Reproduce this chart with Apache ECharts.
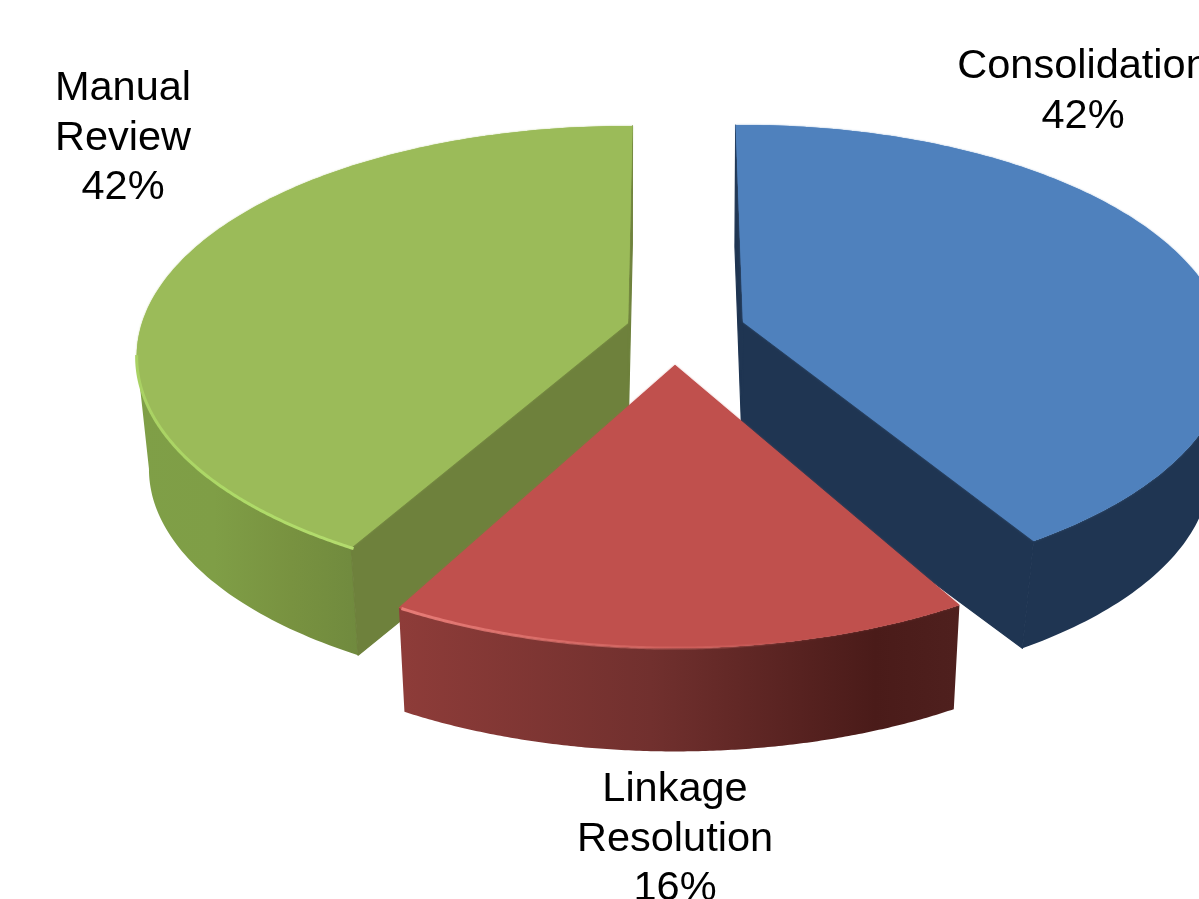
<!DOCTYPE html>
<html>
<head>
<meta charset="utf-8">
<style>html,body{margin:0;padding:0;background:#fff;overflow:hidden}#c{width:1199px;height:899px}</style>
<script src="https://cdn.jsdelivr.net/npm/echarts@6/dist/echarts.min.js"></script>
</head>
<body>
<div id="c"></div>
<script>
const categories = ['Consolidation', 'Linkage\nResolution', 'Manual\nReview'];
const shares = [42, 16, 42];

// View of each exploded slice (3D projection parameters, not data)
const views = [
  {apex:[743,322], rx:480, ry:226, p:0.147, nudge:[-1,-3.2], dx:-1, depth:115, coreDrop:4, scale:0.965, faces:true, layer:0,
   top:'#4F81BD', face:'#1F3552', side:[[0,'#1F3552'],[1,'#1F3552']], glow:'rgba(79,129,189,0.7)',
   label:[1083,91.5]},
  {apex:[675,365], rx:488, ry:231, p:0.184, nudge:[-0.5,-0.5], dx:0, depth:109, coreDrop:0, scale:0.98, faces:false, layer:10,
   top:'#C0504D', face:'#7B2F2C', side:[[0,'#8E3C39'],[0.45,'#71302E'],[0.85,'#4A1B19'],[1,'#4F201E']], glow:'rgba(192,80,77,0.7)',
   rim:[[0,'rgba(232,125,120,1)'],[0.55,'rgba(225,115,110,0.35)'],[0.7,'rgba(225,115,110,0)'],[1,'rgba(225,115,110,0)']],
   rimRange:[151,208], label:[675,839.5]},
  {apex:[628,323], rx:486, ry:226, p:0.147, nudge:[1,0.6], dx:0, depth:113, coreDrop:0, scale:0.975, faces:true, layer:0,
   top:'#9BBB59', face:'#6E813C', side:[[0,'#7F9F47'],[0.35,'#7F9E46'],[0.7,'#789240'],[1,'#708A3E']], glow:'rgba(155,187,89,0.7)',
   rim:[[0,'#A9D163'],[0.5,'#AEDB68'],[1,'#B4DC6E']], rimRange:[209.5,262], label:[123,138.5]}
];
const fontPx = 41.5;
const lineH = 49.5;

const total = shares.reduce((a, b) => a + b, 0);

function project(v, deg, bottom) {
  const t = deg * Math.PI / 180, a = Math.sin(t), b = -Math.cos(t);
  const d = 1 - v.p * b;
  const x = v.rx * a / d, y = v.ry * b / d;
  return bottom
    ? [v.apex[0] + v.dx + v.scale * x, v.apex[1] + v.depth + v.scale * y]
    : [v.apex[0] + x, v.apex[1] + y];
}
function arc(v, a0, a1, bottom) {
  const out = [], n = 160;
  for (let i = 0; i <= n; i++) out.push(project(v, a0 + (a1 - a0) * i / n, bottom));
  return out;
}
// Only the part of the rim facing the viewer gets a side wall
function frontBand(v, a0, a1) {
  const cx = v.apex[0];
  const top = arc(v, a0, a1, false), bot = arc(v, a0, a1, true);
  let ext = 0;
  top.forEach((pt, i) => { if (Math.abs(pt[0] - cx) > Math.abs(top[ext][0] - cx)) ext = i; });
  const ey = top[ext][1];
  const keep = [];
  top.forEach((pt, i) => { if (pt[1] >= ey) keep.push(i); });
  const t = keep.map(i => top[i]), b = keep.map(i => bot[i]);
  return t.concat(b.reverse());
}
function grad(stops) {
  return {type:'linear', x:0, y:0, x2:1, y2:0, colorStops: stops.map(s => ({offset:s[0], color:s[1]}))};
}

function renderItem(params, api) {
  const i = params.dataIndex, v = views[i], value = api.value(0);
  let before = 0;
  for (let k = 0; k < i; k++) before += shares[k];
  const a0 = before / total * 360 + v.nudge[0];
  const a1 = (before + value) / total * 360 + v.nudge[1];
  const topArc = arc(v, a0, a1, false), botArc = arc(v, a0, a1, true);
  const apexBottom = [v.apex[0] + v.dx, v.apex[1] + v.depth + v.coreDrop];
  const children = [];
  const poly = (points, style) => ({type:'polygon', z2:v.layer, shape:{points}, style});

  children.push(poly(frontBand(v, a0, a1), {fill:grad(v.side)}));
  if (v.faces) {
    const faceStyle = {fill:v.face, stroke:v.face, lineWidth:1.2, lineJoin:'round'};
    children.push(poly([v.apex, topArc[0], botArc[0], apexBottom], faceStyle));
    children.push(poly([v.apex, topArc[topArc.length-1], botArc[botArc.length-1], apexBottom], faceStyle));
  }
  children.push(poly([v.apex].concat(topArc), {fill:v.top, shadowBlur:2, shadowColor:v.glow}));
  children.push(poly([v.apex].concat(topArc), {fill:v.top}));
  if (v.rim) {
    children.push({type:'polyline', z2:v.layer, shape:{points: arc(v, v.rimRange[0], v.rimRange[1], false)},
      style:{fill:'none', stroke:grad(v.rim), lineWidth:3}});
  }
  children.push({type:'text', z2:20, x:v.label[0], y:v.label[1], style:{
    text: categories[i] + '\n' + value + '%',
    fontFamily:'"Liberation Sans", Arial, sans-serif', fontSize:fontPx, lineHeight:lineH,
    fill:'#000', align:'center', verticalAlign:'middle'
  }});
  return {type:'group', children};
}

const chart = echarts.init(document.getElementById('c'), null, {renderer:'canvas'});
chart.setOption({
  backgroundColor:'#fff',
  animation:false,
  series:[{
    type:'custom',
    coordinateSystem:'none',
    renderItem,
    data: shares.map((s, i) => ({name:categories[i], value:[s]}))
  }]
});
</script>
</body>
</html>
